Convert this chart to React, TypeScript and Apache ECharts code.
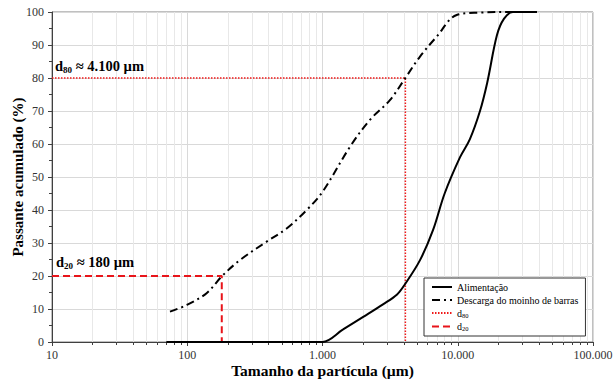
import React, { useEffect, useRef } from "react";
import * as echarts from "echarts";

const FONT = "'Liberation Serif', 'Times New Roman', serif";

// Alimentação (feed)
const feedSize = [70, 900, 1000, 1420, 2000, 2800, 3560, 4070, 5260, 6560, 8000, 10400, 12300, 14600, 16500, 19500, 22000, 25600, 38500];
const feedPass = [0, 0, 0, 3.8, 7.6, 11.4, 14.4, 17.5, 24.8, 33.9, 45, 56, 61.5, 70, 78.5, 93, 98, 100, 100];

// Descarga do moinho de barras
const dischSize = [74.5, 99, 139, 181, 245, 386, 543, 764, 1000, 1600, 2240, 3150, 4080, 5260, 6980, 9820, 14600, 25600, 38500];
const dischPass = [9.2, 11.2, 14.8, 20, 24.8, 30.4, 34.4, 40, 45.5, 59.2, 67.3, 73.3, 79.9, 86.5, 92.5, 99.1, 99.8, 100, 100];

// d80 / d20 guide lines
const d80Size = [10, 4100, 4100];
const d80Pass = [80, 80, 0];
const d20Size = [10, 180, 180];
const d20Pass = [20, 20, 0];

const xTickValues = [10, 100, 1000, 10000, 100000];
const xTickLabels = ["10", "100", "1.000", "10.000", "100.000"];

const seriesNames = ["Alimentação", "Descarga do moinho de barras", "d80", "d20"];

const zip = (xs: number[], ys: number[]) => xs.map((x, i) => [x, ys[i]]);

export default function App() {
  const ref = useRef<HTMLDivElement>(null);
  useEffect(() => {
    if (!ref.current) return;
    const chart = echarts.init(ref.current, undefined, { renderer: "svg" });
    const option: any = {
      animation: false,
      backgroundColor: "#ffffff",
      grid: {
        left: 52,
        top: 12,
        right: 21,
        bottom: 38,
        containLabel: false,
        outerBoundsMode: "none",
        show: true,
        borderColor: "#808080",
        borderWidth: 1,
      },
      xAxis: {
        type: "log",
        logBase: 10,
        min: 10,
        max: 100000,
        axisLine: { lineStyle: { color: "#404040", width: 1 } },
        axisTick: { show: true, length: 4, lineStyle: { color: "#404040" } },
        minorTick: { show: true, splitNumber: 9, length: 3, lineStyle: { color: "#404040" } },
        splitLine: { show: true, lineStyle: { color: "#d9d9d9" } },
        minorSplitLine: { show: true, lineStyle: { color: "#e8e8e8" } },
        axisLabel: {
          fontFamily: FONT,
          fontSize: 12,
          color: "#333",
          margin: 7,
          formatter: (v: number) => {
            const i = xTickValues.findIndex((t) => Math.abs(t - v) / t < 1e-6);
            return i >= 0 ? xTickLabels[i] : "";
          },
        },
        name: "Tamanho da partícula (µm)",
        nameLocation: "middle",
        nameGap: 20,
        nameMoveOverlap: false,
        nameTextStyle: { fontFamily: FONT, fontWeight: "bold", fontSize: 15.5, color: "#000" },
      },
      yAxis: {
        type: "value",
        min: 0,
        max: 100,
        interval: 10,
        axisLine: { show: true, lineStyle: { color: "#404040", width: 1 } },
        axisTick: { show: true, length: 4, lineStyle: { color: "#404040" } },
        minorTick: { show: true, splitNumber: 2, length: 3, lineStyle: { color: "#404040" } },
        splitLine: { show: true, lineStyle: { color: "#d9d9d9" } },
        axisLabel: { fontFamily: FONT, fontSize: 12, color: "#333", margin: 8 },
        name: "Passante acumulado (%)",
        nameLocation: "middle",
        nameGap: 27,
        nameMoveOverlap: false,
        nameTextStyle: { fontFamily: FONT, fontWeight: "bold", fontSize: 15, color: "#000" },
      },
      legend: {
        orient: "vertical",
        left: 424,
        top: 278,
        backgroundColor: "#ffffff",
        borderColor: "#333",
        borderWidth: 1,
        borderRadius: 0,
        padding: [4, 7, 4, 7],
        itemGap: 3,
        itemWidth: 20,
        itemHeight: 11,
        data: seriesNames,
        itemStyle: { opacity: 0, borderWidth: 0 },
        formatter: (name: string) => {
          if (name === "d80") return "{n|d}{s|80}";
          if (name === "d20") return "{n|d}{s|20}";
          return "{n|" + name + "}";
        },
        textStyle: {
          fontFamily: FONT,
          fontSize: 10,
          color: "#000",
          rich: {
            n: { fontFamily: FONT, fontSize: 10, color: "#000", lineHeight: 11 },
            s: { fontFamily: FONT, fontSize: 6.5, color: "#000", lineHeight: 11, verticalAlign: "bottom" },
          },
        },
      },
      graphic: [
        {
          type: "text",
          left: 55,
          top: 58,
          z: 100,
          style: {
            text: "{a|d}{s|80}{a| ≈ 4.100 µm}",
            rich: {
              a: { fontFamily: FONT, fontSize: 14.5, fontWeight: "bold", fill: "#000", lineHeight: 18 },
              s: { fontFamily: FONT, fontSize: 9, fontWeight: "bold", fill: "#000", lineHeight: 18, verticalAlign: "bottom" },
            },
          },
        },
        {
          type: "text",
          left: 56,
          top: 254,
          z: 100,
          style: {
            text: "{a|d}{s|20}{a| ≈ 180 µm}",
            rich: {
              a: { fontFamily: FONT, fontSize: 14.5, fontWeight: "bold", fill: "#000", lineHeight: 18 },
              s: { fontFamily: FONT, fontSize: 9, fontWeight: "bold", fill: "#000", lineHeight: 18, verticalAlign: "bottom" },
            },
          },
        },
      ],
      series: [
        {
          name: seriesNames[0],
          type: "line",
          data: zip(feedSize, feedPass),
          smooth: 0.35,
          symbol: "none",
          lineStyle: { color: "#000", width: 2, type: "solid" },
          itemStyle: { color: "#000" },
          z: 5,
        },
        {
          name: seriesNames[1],
          type: "line",
          data: zip(dischSize, dischPass),
          smooth: 0.35,
          symbol: "none",
          lineStyle: { color: "#000", width: 2, type: [8, 4, 2, 4] },
          itemStyle: { color: "#000" },
          z: 5,
        },
        {
          name: seriesNames[2],
          type: "line",
          data: zip(d80Size, d80Pass),
          symbol: "none",
          lineStyle: { color: "#f01818", width: 1.5, type: [1.5, 1.5] },
          itemStyle: { color: "#f01818" },
          z: 4,
        },
        {
          name: seriesNames[3],
          type: "line",
          data: zip(d20Size, d20Pass),
          symbol: "none",
          lineStyle: { color: "#e8141a", width: 2, type: [7, 4] },
          itemStyle: { color: "#e8141a" },
          z: 4,
        },
      ],
    };
    chart.setOption(option);
    return () => chart.dispose();
  }, []);
  return (
    <div
      ref={ref}
      style={{ position: "fixed", left: 0, top: 0, width: 614, height: 380 }}
    />
  );
}
